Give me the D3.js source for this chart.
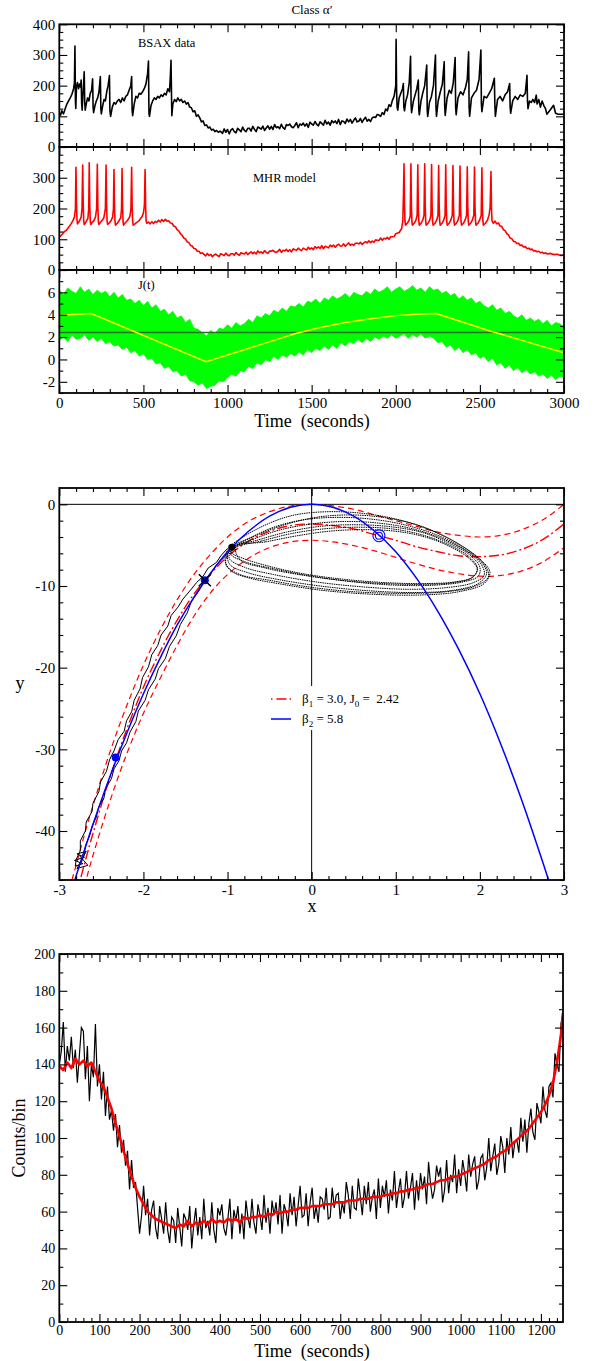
<!DOCTYPE html>
<html>
<head>
<meta charset="utf-8">
<script src="https://cdn.jsdelivr.net/npm/d3@7"></script>
<style>
  body { margin: 0; background: #fff; }
  svg { display: block; }
  svg text { white-space: pre; font-family: "Liberation Serif", "Times New Roman", serif; }
</style>
</head>
<body>
<script>
// ---------------- data : top figure (light curves, 0-3000 s) ----------------
const bsaxData = [[0,112],[8,104],[15,118],[25,108],[35,125],[45,140],[55,150],[65,160],[75,172],[85,190],[90,210],[93,329],[96,150],[98,126],
  [102,195],[108,210],[114,190],[120,205],[126,196],[130,218],[133,140],[136,120],[140,170],[144,200],[148,245],[151,150],[154,120],
  [160,140],[168,160],[176,150],[184,175],[192,185],[198,222],[201,130],[204,112],[212,135],[220,150],[228,160],[236,180],[244,230],
  [247,125],[250,108],[258,135],[266,155],[274,150],[282,180],[290,200],[298,233],[301,118],[305,100],[315,130],[325,145],[335,140],
  [345,150],[355,155],[365,145],[375,160],[385,150],[395,165],[405,170],[415,185],[425,200],[430,230],[433,120],[436,102],[445,140],
  [455,165],[465,160],[475,175],[485,172],[495,180],[505,190],[515,205],[525,240],[530,280],[533,110],[536,100],[545,135],[555,150],
  [565,160],[575,155],[585,165],[595,160],[605,170],[615,165],[625,175],[635,170],[645,190],[655,180],[660,230],[664,283],[667,170],
  [669,102],[675,140],[685,155],[695,148],[705,160],[715,150],[725,155],[735,145],[745,150],[755,140],[765,145],[775,130],[785,128],
  [795,115],[805,118],[815,100],[825,105],[835,95],[845,82],[855,85],[865,70],[875,72],[885,62],[895,65],[905,55],[915,58],[925,50],
  [935,54],[945,48],[955,52],
  [960,50],[970,44],[980,59],[990,48],[1000,57],[1010,43],[1020,55],[1030,60],[1040,50],[1050,46],[1060,61],[1070,56],[1080,50],
  [1090,65],[1100,54],[1110,50],[1120,61],[1130,61],[1140,52],[1150,67],[1160,58],[1170,50],[1180,65],[1190,62],[1200,58],[1210,68],
  [1220,54],[1230,62],[1240,69],[1250,58],[1260,67],[1270,57],[1280,73],[1290,63],[1300,66],[1310,60],[1320,74],[1330,63],[1340,58],
  [1350,73],[1360,70],[1370,75],[1380,66],[1390,63],[1400,70],[1410,79],[1420,63],[1430,75],[1440,71],[1450,78],[1460,68],[1470,76],
  [1480,64],[1490,81],[1500,75],[1510,71],[1520,83],[1530,74],[1540,69],[1550,82],[1560,77],[1570,71],[1580,87],[1590,75],[1600,81],
  [1610,71],[1620,86],[1630,79],[1640,85],[1650,76],[1660,90],[1670,73],[1680,85],[1690,83],[1700,77],[1710,91],[1720,82],[1730,90],
  [1740,78],[1750,87],[1760,95],[1770,82],[1780,84],[1790,93],[1800,80],[1810,90],[1820,97],[1830,84],[1840,90],[1850,83],[1860,95],
  [1870,98],[1880,96],[1890,106],[1900,104],[1910,100],[1920,112],[1930,106],[1940,124],[1950,118],[1960,138],[1970,132],[1980,152],
  [1990,165],[2000,200],[2002,351],[2005,180],[2008,130],[2012,120],[2020,160],[2030,175],[2040,190],
  [2045,207],[2048,130],[2052,118],[2060,150],[2070,170],[2080,210],[2088,296],[2091,140],[2094,112],[2105,150],[2115,170],[2125,190],
  [2134,218],[2137,120],[2140,105],[2150,150],[2160,175],[2172,200],[2184,267],[2187,120],[2190,100],[2200,145],[2212,165],[2224,200],
  [2236,300],[2239,130],[2242,100],[2252,150],[2265,180],[2277,205],[2288,278],[2291,130],[2294,103],[2305,160],[2318,185],[2330,175],
  [2342,210],[2353,292],[2356,130],[2359,105],[2370,160],[2385,180],[2400,170],[2415,195],[2425,220],[2433,310],[2436,130],[2439,100],
  [2450,160],[2465,175],[2480,185],[2495,220],[2506,316],[2509,140],[2512,115],[2525,165],[2540,160],[2555,175],[2570,190],[2586,224],
  [2589,140],[2592,100],[2605,155],[2620,165],[2635,150],[2650,170],[2665,180],[2677,207],[2680,130],[2683,110],[2695,150],[2710,165],
  [2725,155],[2740,170],[2755,165],[2770,175],[2780,234],[2783,150],[2786,125],[2795,150],[2805,145],[2815,155],[2825,145],[2835,169],
  [2840,140],[2850,155],[2860,130],[2870,150],[2880,135],[2890,125],[2898,107],[2920,122],[2938,136],[2950,110],[2965,107],[3000,107]];

const mhrData = [[0,108],[10,112],[20,118],[30,125],[40,128],[50,135],[60,142],[70,150],[80,160],[90,172],[96,200],[99,334],[102,220],
  [105,165],[108,150],[115,155],[122,162],[130,172],[135,200],[139,341],[142,220],[145,160],[148,148],[155,153],[162,160],[170,168],
  [175,200],[178,349],[181,215],[184,160],[187,148],[195,155],[205,160],[215,172],[222,200],[226,344],[229,215],[232,160],[235,148],
  [245,155],[255,162],[265,170],[274,200],[278,341],[281,215],[284,160],[287,148],[297,153],[307,160],[317,172],[322,200],[325,327],
  [328,210],[331,158],[334,146],[345,152],[355,160],[365,170],[370,200],[373,330],[376,210],[379,158],[382,146],[390,152],[400,158],
  [410,165],[420,175],[426,200],[430,334],[433,210],[436,158],[439,146],[450,150],[460,155],[470,158],[480,165],[490,172],[500,185],
  [506,210],[510,327],[513,210],[516,160],[520,152],[530,156],[540,150],[550,157],[560,151],[570,158],[580,155],[590,162],[600,156],
  [610,164],[620,158],[630,165],[640,159],[650,160],[660,153],[670,152],[680,143],[690,141],[700,131],[710,127],[720,118],[730,113],
  [740,104],[750,101],[760,92],[770,89],[780,80],[790,78],[800,70],[810,69],[820,61],[830,61],[840,54],[850,56],
  [860,51],[870,46],[880,54],[890,47],[900,51],[910,43],[920,49],[930,52],[940,47],[950,44],[960,53],[970,50],[980,47],[990,55],
  [1000,49],[1010,46],[1020,53],[1030,53],[1040,48],[1050,57],[1060,51],[1070,48],[1080,56],[1090,54],[1100,52],[1110,58],[1120,50],
  [1130,55],[1140,59],[1150,53],[1160,58],[1170,52],[1180,62],[1190,56],[1200,59],[1210,54],[1220,63],[1230,57],[1240,54],[1250,62],
  [1260,61],[1270,64],[1280,59],[1290,57],[1300,61],[1310,67],[1320,57],[1330,64],[1340,62],[1350,67],[1360,60],[1370,66],[1380,59],
  [1390,69],[1400,66],[1410,64],[1420,71],[1430,66],[1440,63],[1450,71],[1460,68],[1470,65],[1480,74],[1490,68],[1500,72],[1510,66],
  [1520,76],[1530,71],[1540,75],[1550,70],[1560,79],[1570,69],[1580,77],[1590,75],[1600,72],[1610,81],[1620,76],[1630,81],[1640,74],
  [1650,80],[1660,84],[1670,78],[1680,78],[1690,85],[1700,77],[1710,83],[1720,88],[1730,80],[1740,84],[1750,80],[1760,87],[1770,87],
  [1780,85],[1790,90],[1800,83],[1810,88],[1820,92],[1830,88],[1840,95],[1850,89],[1860,94],[1870,90],[1880,98],[1890,97],[1900,96],
  [1910,104],[1920,97],[1930,103],[1940,101],[1950,106],[1960,100],[1970,108],[1980,108],[1990,109],[2000,118],[2020,122],[2035,135],
  [2042,160],[2046,250],[2049,345],[2052,210],[2055,158],
  [2058,146],[2068,152],[2078,160],[2086,175],[2090,345],[2093,210],[2096,158],[2099,146],[2110,152],[2120,162],[2127,178],[2131,342],
  [2134,210],[2137,158],[2140,146],[2150,152],[2160,162],[2168,178],[2172,345],[2175,210],[2178,158],[2181,146],[2192,152],[2202,162],
  [2209,178],[2213,343],[2216,210],[2219,158],[2222,146],[2233,152],[2243,162],[2251,178],[2255,340],[2258,210],[2261,158],[2264,146],
  [2275,152],[2285,162],[2293,178],[2297,342],[2300,210],[2303,158],[2306,146],[2317,152],[2327,162],[2336,178],[2340,340],[2343,210],
  [2346,158],[2349,146],[2360,152],[2370,162],[2378,178],[2382,338],[2385,210],[2388,158],[2391,146],[2402,152],[2412,162],[2421,178],
  [2425,336],[2428,210],[2431,158],[2434,146],[2445,152],[2455,162],[2464,178],[2468,335],[2471,210],[2474,158],[2477,146],[2488,152],
  [2498,162],[2508,178],[2512,332],[2515,210],[2518,158],[2521,146],[2533,152],[2545,162],[2555,180],[2561,205],[2566,320],[2569,200],
  [2572,160],[2580,152],[2590,159],[2600,150],[2610,153],[2620,143],[2630,142],[2640,131],[2650,128],[2660,118],[2670,114],[2680,104],
  [2690,102],[2700,93],[2710,92],[2720,86],[2730,87],[2740,80],[2750,81],[2760,75],[2770,76],[2780,70],[2790,71],[2800,66],[2810,68],
  [2820,62],[2830,63],[2840,59],[2850,61],[2860,56],[2870,58],[2880,54],[2890,56],[2900,52],[2920,54],[2940,50],[2960,51],[2980,47],
  [3000,48]];

// J(t): envelope of the fast oscillation, one value every jStep seconds
const jStep = 25;
const jUpper = [6.2,5.8,6.4,6.1,5.9,6.5,6.0,6.3,5.8,
  6.2,5.9,6.1,5.6,6.0,5.5,5.8,5.3, 5.4,5.0,5.3,4.8,5.2,4.6,4.9,4.3, 4.5,4.0,4.3,3.7,3.9,3.3,3.6,2.8,
  2.7,2.4,2.1,2.6,2.3,2.8,2.7,3.1, 2.8,3.3,3.0,3.2,3.6,3.3,3.9,3.7, 4.1,3.9,4.4,4.2,4.6,4.3,4.8,4.7,
  5.0,4.7,5.2,5.1,5.4,5.0,5.5,5.3, 5.7,5.4,5.6,5.9,5.5,6.0,5.8,5.7, 6.1,5.8,6.3,6.0,6.2,6.5,6.0,6.3,
  6.5,6.1,6.3,6.6,6.2,6.4,6.0,6.5, 6.2,6.3,5.9,6.1,5.7,5.9,5.4,5.7, 5.3,5.5,5.0,5.2,4.8,4.6,4.9,4.4,
  4.6,4.1,4.3,3.9,3.7,4.0,3.5,3.7, 3.4,3.6,3.2,3.5,3.0,3.3,3.2,2.9];
const jLower = [1.7,2.0,1.6,2.2,1.8,1.9,2.2,1.7,2.0,
  1.6,1.9,1.4,1.6,1.2,1.3,0.9,1.1, 0.6,0.8,0.3,0.5,0.0,0.1,-0.4,-0.3, -0.8,-0.6,-1.1,-1.0,-1.5,-1.3,-1.9,-2.0,
  -2.3,-2.1,-2.6,-2.4,-2.3,-1.9,-2.0,-1.6, -1.3,-1.5,-1.0,-1.1,-0.6,-0.8,-0.3,-0.5, 0.0,-0.2,0.3,0.0,0.4,0.2,0.5,0.3,
  0.7,0.4,0.9,0.6,1.0,0.8,1.2,0.9, 1.3,1.0,1.5,1.2,1.6,1.4,1.8,1.5, 1.9,1.6,2.0,1.8,2.1,1.9,2.2,1.9,
  2.1,2.3,1.9,2.2,2.0,2.3,1.9,2.1, 1.9,1.5,1.6,1.1,1.3,0.8,1.1,0.6, 0.9,0.4,0.6,0.1,0.3,-0.2,0.1,-0.5,
  -0.3,-0.8,-0.5,-1.0,-0.7,-1.2,-0.9,-1.3, -1.1,-1.5,-1.3,-1.7,-1.4,-1.8,-1.5,-1.6];
const jTrend = [[0,3.95],[190,4.1],[872,-0.2],[1000,0.4],[1200,1.35],[1400,2.3],[1550,2.85],[1700,3.3],[1850,3.65],
  [2000,3.92],[2120,4.05],[2240,4.1],[2560,2.55],[3000,0.6]];
const J0 = 2.42;

const topTimeTicks = [0,500,1000,1500,2000,2500,3000];
const countTicks = [0,100,200,300,400];
const jTicks = [-2,0,2,4,6,8];

// ---------------- data : phase plane ----------------
const nullX     = [-2.85,-2.8,-2.7,-2.6,-2.4,-2.2,-2.0,-1.8,-1.6,-1.4,-1.2,-1.0,-0.75,-0.5,-0.25,0,0.25,0.5,0.75,1.0,1.25,1.5,1.75,2.0,2.25,2.5,2.75,3.0];
const nullUpper = [-46.0,-44.2,-40.4,-36.9,-30.4,-24.7,-19.7,-15.4,-11.7,-8.6,-6.1,-4.0,-2.1,-0.9,-0.2,0,-0.2,-0.6,-1.3,-2.0,-2.7,-3.4,-3.8,-4.0,-3.8,-3.1,-1.9,0.0];
const nullMid   = [-49.9,-47.9,-44.0,-40.3,-33.5,-27.6,-22.4,-18.0,-14.2,-11.0,-8.5,-6.4,-4.5,-3.3,-2.6,-2.4,-2.6,-3.0,-3.7,-4.4,-5.2,-5.8,-6.3,-6.4,-6.2,-5.5,-4.3,-2.4];
const nullLower = [-52.7,-50.7,-46.7,-43.0,-36.4,-30.6,-25.6,-21.3,-17.3,-13.7,-10.8,-8.6,-6.6,-5.3,-4.6,-4.4,-4.6,-5.05,-5.7,-6.5,-7.3,-8.0,-8.5,-8.8,-8.7,-8.15,-7.05,-5.3];
const parX = [-2.85,-2.8,-2.6,-2.4,-2.2,-2.0,-1.8,-1.6,-1.4,-1.2,-1.0,-0.75,-0.5,-0.25,0,0.25,0.5,0.75,1.0,1.25,1.5,1.75,2.0,2.25,2.5,2.75,2.85];
const parY = [-47.1,-45.5,-39.2,-33.4,-28.1,-23.2,-18.8,-14.8,-11.4,-8.4,-5.8,-3.3,-1.45,-0.36,0,-0.36,-1.45,-3.3,-5.8,-9.1,-13.1,-17.8,-23.2,-29.4,-36.3,-43.9,-47.1];

const burstLoops = [
  [[-0.98,-5.3],[-0.8,-3.9],[-0.5,-2.3],[-0.2,-1.3],[0.2,-0.9],[0.6,-1.1],[1.0,-1.8],[1.4,-3.1],[1.75,-4.9],[2.0,-6.7],[2.12,-8.3],[2.05,-9.7],[1.75,-10.7],[1.3,-11.1],[0.7,-11.0],[0.1,-10.5],[-0.4,-9.7],[-0.75,-9.0],[-0.95,-8.2],[-1.03,-6.8]],
  [[-0.95,-5.4],[-0.75,-4.2],[-0.45,-2.8],[-0.1,-1.9],[0.3,-1.6],[0.7,-1.8],[1.1,-2.5],[1.5,-3.8],[1.8,-5.4],[2.02,-7.1],[2.08,-8.5],[1.98,-9.7],[1.7,-10.5],[1.25,-10.8],[0.7,-10.6],[0.1,-10.0],[-0.4,-9.2],[-0.75,-8.4],[-0.97,-7.4],[-1.0,-6.2]],
  [[-0.93,-5.3],[-0.7,-4.3],[-0.4,-3.2],[0.0,-2.4],[0.4,-2.1],[0.8,-2.3],[1.2,-3.0],[1.55,-4.2],[1.85,-5.8],[2.02,-7.4],[2.05,-8.7],[1.92,-9.6],[1.6,-10.2],[1.15,-10.4],[0.6,-10.1],[0.05,-9.5],[-0.45,-8.6],[-0.8,-7.7],[-0.98,-6.6]],
  [[-0.92,-5.2],[-0.65,-4.4],[-0.3,-3.4],[0.1,-2.7],[0.5,-2.5],[0.9,-2.7],[1.3,-3.4],[1.6,-4.6],[1.88,-6.2],[2.0,-7.7],[1.98,-8.8],[1.8,-9.5],[1.45,-9.9],[1.0,-9.9],[0.5,-9.5],[0.0,-8.8],[-0.45,-7.9],[-0.8,-7.0],[-0.96,-6.1]],
  [[-0.9,-5.25],[-0.6,-4.5],[-0.25,-3.6],[0.15,-3.0],[0.55,-2.8],[0.95,-3.0],[1.3,-3.7],[1.62,-4.9],[1.87,-6.4],[1.97,-7.8],[1.92,-8.9],[1.7,-9.5],[1.35,-9.7],[0.9,-9.6],[0.4,-9.2],[-0.1,-8.5],[-0.5,-7.6],[-0.82,-6.6],[-0.95,-5.9]],
  [[-0.95,-5.3],[-0.7,-4.0],[-0.35,-2.6],[0.05,-1.6],[0.45,-1.3],[0.85,-1.6],[1.25,-2.5],[1.6,-4.0],[1.9,-5.9],[2.07,-7.6],[2.1,-8.9],[1.95,-10.0],[1.6,-10.7],[1.1,-10.9],[0.5,-10.7],[-0.05,-10.1],[-0.5,-9.3],[-0.85,-8.6],[-1.02,-7.4]],
  [[-0.9,-5.2],[-0.55,-4.6],[-0.2,-3.9],[0.2,-3.3],[0.6,-3.1],[1.0,-3.3],[1.35,-4.0],[1.65,-5.2],[1.88,-6.7],[1.97,-8.0],[1.9,-9.0],[1.68,-9.6],[1.3,-9.8],[0.85,-9.7],[0.35,-9.3],[-0.15,-8.6],[-0.55,-7.8],[-0.85,-6.8]]
];
const branchOuter = [[-1.0,-5.4],[-1.08,-6.3],[-1.13,-7.1],[-1.23,-7.8],[-1.29,-8.8],[-1.37,-9.6],[-1.44,-10.5],[-1.53,-11.6],[-1.59,-12.6],
  [-1.67,-13.6],[-1.71,-14.9],[-1.79,-16.0],[-1.83,-17.3],[-1.9,-18.4],[-1.94,-19.9],[-2.01,-21.2],[-2.04,-22.6],[-2.11,-24.0],
  [-2.14,-25.4],[-2.2,-26.5],[-2.23,-27.8],[-2.3,-28.8],[-2.35,-30.2],[-2.4,-31.2],[-2.44,-32.7],[-2.51,-34.0],[-2.53,-35.2],
  [-2.6,-36.6],[-2.61,-37.6],[-2.68,-38.9],[-2.69,-40.0],[-2.75,-41.2],[-2.75,-42.4],[-2.8,-43.5],[-2.81,-44.3],
  [-2.72,-44.0],[-2.82,-43.6],[-2.7,-43.2],[-2.79,-42.8],[-2.68,-42.5],[-2.79,-44.6],[-2.66,-44.2],[-2.76,-43.0]];
const branchInner = [[-2.74,-43.9],[-2.7,-42.8],[-2.69,-41.8],[-2.64,-40.6],[-2.61,-39.4],[-2.56,-38.3],[-2.53,-37.0],[-2.47,-36.0],
  [-2.45,-34.8],[-2.38,-33.6],[-2.35,-32.4],[-2.29,-31.4],[-2.26,-30.2],[-2.2,-29.2],[-2.16,-27.9],[-2.09,-26.6],[-2.06,-25.3],
  [-1.98,-24.0],[-1.94,-22.7],[-1.86,-21.4],[-1.82,-20.1],[-1.74,-18.9],[-1.69,-17.4],[-1.61,-16.1],[-1.56,-14.7],[-1.48,-13.3],
  [-1.43,-11.9],[-1.34,-10.6],[-1.28,-9.4],[-1.19,-8.3],[-1.13,-7.4],[-1.04,-6.5],[-0.98,-5.8]];
const fixedPoints = [{x: -2.33, y: -31.0}, {x: -1.27, y: -9.3}];
const unstablePoint = {x: 0.8, y: -3.84};
const junction = {x: -0.95, y: -5.25};
const phaseXTicks = [-3,-2,-1,0,1,2,3];
const phaseYTicks = [-40,-30,-20,-10,0];

// ---------------- data : bottom light curve ----------------
const binWidth = 5;
const counts = [140,147,163,136,150,142,155,138,148,130,145,160,158,132,150,120,140,133,162,128,
  140,121,136,112,128,110,115,104,113,95,107,92,99,85,93,72,88,73,76,62,
  48,58,74,58,67,47,61,66,51,45,63,56,48,65,50,43,57,55,43,62,
  52,41,59,56,50,63,40,53,62,47,57,45,67,51,55,47,65,50,43,62,
  58,64,51,47,56,67,45,61,55,63,48,59,45,66,57,51,67,54,48,64,
  58,50,69,54,62,48,66,58,65,53,69,48,64,60,52,70,58,68,52,63,
  74,57,58,70,52,65,73,56,63,54,68,67,61,73,56,57,73,62,69,70,
  56,65,59,76,69,56,74,62,61,78,68,58,74,64,76,60,68,72,56,78,
  62,74,68,77,59,72,66,82,62,71,78,62,68,82,67,73,81,61,77,66,
  81,72,79,64,87,75,67,72,85,79,84,65,72,88,70,80,76,91,70,83,
  74,88,81,71,91,79,86,90,72,77,89,91,77,84,100,82,90,97,80,86,
  101,95,81,100,91,106,89,98,99,92,111,98,110,92,108,116,103,99,119,114,
  108,128,115,111,128,130,122,146,140,136,162,168];
const fitData = [[0,139],[10,137],[20,141],[30,138],[40,143],[50,140],[60,142],[70,139],[80,141],[90,136],[100,131],[110,128],
  [120,122],[130,116],[140,108],[150,101],[160,93],[170,86],[180,79],[190,73],[200,68],[210,64],[220,60],[230,58],[240,56],[250,55],
  [260,54],[270,53],[280,52],[290,51],[300,53],[310,52],[320,55],[330,52],[340,54],[350,53],[360,55],[370,53],[380,56],[390,54],
  [400,55],[410,54],[420,56],[430,55],[440,56],[450,54],[460,57],[470,56],[480,57],[490,57],[500,58],[510,57],[520,59],[530,58],
  [540,60],[550,59],[560,60],[570,60],[580,61],[590,61],[600,62],[610,62],[620,62],[630,63],[640,63],[650,63],[660,64],[670,64],
  [680,64],[690,65],[700,65],[710,65],[720,66],[730,66],[740,66],[750,67],[760,67],[770,67],[780,68],[790,68],[800,68],[810,69],
  [820,69],[830,70],[840,70],[850,71],[860,71],[870,72],[880,72],[890,73],[900,73],[910,74],[920,75],[930,75],[940,76],[950,77],
  [960,77],[970,78],[980,79],[990,79],[1000,80],[1010,81],[1020,82],[1030,83],[1040,84],[1050,85],[1060,86],[1070,88],[1080,89],
  [1090,90],[1100,92],[1110,93],[1120,95],[1130,97],[1140,99],[1150,101],[1160,103],[1170,105],[1180,108],[1190,111],[1200,114],
  [1210,118],[1220,123],[1230,130],[1240,141],[1250,156],[1255,168]];
const bottomTimeTicks = [0,100,200,300,400,500,600,700,800,900,1000,1100,1200];
const bottomCountTicks = [0,20,40,60,80,100,120,140,160,180,200];

// ---------------- drawing ----------------
const svg = d3.select("body").append("svg")
    .attr("width", 594).attr("height", 1361);
const defs = svg.append("defs");
const X0 = 59.3, X1 = 564;

function clip(id, x, y) {
    defs.append("clipPath").attr("id", id).append("rect")
        .attr("x", x.range()[0]).attr("y", y.range()[1])
        .attr("width", x.range()[1] - x.range()[0])
        .attr("height", y.range()[0] - y.range()[1]);
    return `url(#${id})`;
}

// inward ticks on all four sides, like xmgrace
function frame(g, x, y, o) {
    const [xa, xb] = x.range(), [yb, ya] = y.range();
    const put = (axis, tx, ty) => g.append("g")
        .attr("transform", `translate(${tx},${ty})`)
        .call(axis)
        .call(s => s.select(".domain").remove())
        .attr("font-size", o.fs || 15)
        .call(s => s.selectAll("line").attr("stroke-width", 1.1));
    const none = () => "";
    put(d3.axisBottom(x).tickValues(o.xMinor).tickSize(-4).tickFormat(none), 0, yb);
    put(d3.axisTop(x).tickValues(o.xMinor).tickSize(-4).tickFormat(none), 0, ya);
    put(d3.axisLeft(y).tickValues(o.yMinor).tickSize(-4).tickFormat(none), xa, 0);
    put(d3.axisRight(y).tickValues(o.yMinor).tickSize(-4).tickFormat(none), xb, 0);
    put(d3.axisBottom(x).tickValues(o.xMajor).tickSize(-8).tickPadding(o.xPad || 5).tickFormat(o.xFmt || none), 0, yb);
    put(d3.axisTop(x).tickValues(o.xMajor).tickSize(-8).tickFormat(none), 0, ya);
    put(d3.axisLeft(y).tickValues(o.yMajor).tickSize(-8).tickPadding(4).tickFormat(o.yFmt || none), xa, 0);
    put(d3.axisRight(y).tickValues(o.yMajor).tickSize(-8).tickFormat(none), xb, 0);
    g.append("rect")
        .attr("x", xa).attr("y", ya).attr("width", xb - xa).attr("height", yb - ya)
        .attr("fill", "none").attr("stroke", "#000").attr("stroke-width", 1.8);
}

const notMajor = (step) => (v) => Math.abs(v / step - Math.round(v / step)) > 1e-6;

// ---- top figure
const tTop = d3.scaleLinear().domain([0, 3000]).range([X0, X1]);
const yBsax = d3.scaleLinear().domain([0, 400]).range([147, 24.3]);
const yMhr = d3.scaleLinear().domain([0, 400]).range([270, 147]);
const yJ = d3.scaleLinear().domain([-3, 8]).range([393, 270]);
const tMinor = d3.range(0, 3001, 100).filter(notMajor(500));
const cMinor = d3.range(0, 401, 25).filter(notMajor(100));

const g1 = svg.append("g");
const g1c = g1.append("g").attr("clip-path", clip("c1", tTop, yBsax));
g1c.append("path").datum(bsaxData)
    .attr("fill", "none").attr("stroke", "#000").attr("stroke-width", 1.6).attr("stroke-linejoin", "round")
    .attr("d", d3.line().x(d => tTop(d[0])).y(d => yBsax(d[1])));
frame(g1, tTop, yBsax, {xMajor: topTimeTicks, xMinor: tMinor, yMajor: countTicks, yMinor: cMinor, yFmt: d => d});
g1.append("text").attr("x", 138).attr("y", 46.5).attr("font-size", 12.5).text("BSAX data");

const g2 = svg.append("g");
const g2c = g2.append("g").attr("clip-path", clip("c2", tTop, yMhr));
g2c.append("path").datum(mhrData)
    .attr("fill", "none").attr("stroke", "#ff0000").attr("stroke-width", 1.6).attr("stroke-linejoin", "round")
    .attr("d", d3.line().x(d => tTop(d[0])).y(d => yMhr(d[1])));
frame(g2, tTop, yMhr, {xMajor: topTimeTicks, xMinor: tMinor, yMajor: countTicks, yMinor: cMinor, yFmt: d => d === 400 ? "" : d});
g2.append("text").attr("x", 253).attr("y", 181.5).attr("font-size", 12.5).text("MHR model");

const g3 = svg.append("g");
const g3c = g3.append("g").attr("clip-path", clip("c3", tTop, yJ));
g3c.append("path").datum(jUpper)
    .attr("fill", "#00ff00").attr("stroke", "#00ff00").attr("stroke-width", 0.8)
    .attr("d", d3.area().x((d, i) => tTop(i * jStep)).y0((d, i) => yJ(jLower[i])).y1(d => yJ(d)));
g3c.append("line")
    .attr("x1", X0).attr("x2", X1).attr("y1", yJ(J0)).attr("y2", yJ(J0))
    .attr("stroke", "#267326").attr("stroke-width", 1.5);
g3c.append("path").datum(jTrend)
    .attr("fill", "none").attr("stroke", "#ffff00").attr("stroke-width", 1.5)
    .attr("d", d3.line().x(d => tTop(d[0])).y(d => yJ(d[1])));
frame(g3, tTop, yJ, {xMajor: topTimeTicks, xMinor: tMinor, yMajor: jTicks, yMinor: [-3,-1,1,3,5,7],
    xFmt: d => d, yFmt: d => d === 8 ? "" : d, xPad: 4});
g3.append("text").attr("x", 138).attr("y", 289).attr("font-size", 12.5).text("J(t)");

svg.append("text").attr("x", 312).attr("y", 14).attr("text-anchor", "middle").attr("font-size", 13).text("Class \u03b1\u2032");
svg.append("text").attr("x", 312).attr("y", 426.5).attr("text-anchor", "middle").attr("font-size", 18).text("Time  (seconds)");

// ---- phase plane
const px = d3.scaleLinear().domain([-3, 3]).range([X0, X1]);
const py = d3.scaleLinear().domain([-46, 2]).range([880, 488]);
const gm = svg.append("g");
const gmc = gm.append("g").attr("clip-path", clip("cm", px, py));
gmc.append("line").attr("x1", px(0)).attr("x2", px(0)).attr("y1", py(2)).attr("y2", py(-46))
    .attr("stroke", "#000").attr("stroke-width", 1);
gmc.append("line").attr("x1", X0).attr("x2", X1).attr("y1", py(0)).attr("y2", py(0))
    .attr("stroke", "#000").attr("stroke-width", 1);

const curve = d3.line().x(d => px(d[0])).y(d => py(d[1])).curve(d3.curveCatmullRom);
const zipX = (xs, ys) => xs.map((v, i) => [v, ys[i]]);
gmc.append("path").datum(zipX(nullX, nullUpper)).attr("fill", "none").attr("stroke", "#ff0000")
    .attr("stroke-width", 1.2).attr("stroke-dasharray", "6,4").attr("d", curve);
gmc.append("path").datum(zipX(nullX, nullLower)).attr("fill", "none").attr("stroke", "#ff0000")
    .attr("stroke-width", 1.2).attr("stroke-dasharray", "6,4").attr("d", curve);
gmc.append("path").datum(zipX(nullX, nullMid)).attr("fill", "none").attr("stroke", "#ff0000")
    .attr("stroke-width", 1.4).attr("stroke-dasharray", "10,3,2,3").attr("d", curve);

gmc.selectAll("path.loop").data(burstLoops).join("path").attr("class", "loop")
    .attr("fill", "none").attr("stroke", "#000").attr("stroke-width", 1)
    .attr("stroke-dasharray", "1.5,0.8")
    .attr("d", d3.line().x(d => px(d[0])).y(d => py(d[1])).curve(d3.curveCatmullRomClosed));
const rough = d3.line().x(d => px(d[0])).y(d => py(d[1]));
gmc.append("path").datum(branchOuter).attr("fill", "none").attr("stroke", "#000").attr("stroke-width", 1).attr("d", rough);
gmc.append("path").datum(branchInner).attr("fill", "none").attr("stroke", "#000").attr("stroke-width", 1).attr("d", rough);

gmc.append("path").datum(zipX(parX, parY)).attr("fill", "none").attr("stroke", "#0000ff")
    .attr("stroke-width", 1.5).attr("d", curve);

gmc.selectAll("circle.fp").data(fixedPoints).join("circle").attr("class", "fp")
    .attr("cx", d => px(d.x)).attr("cy", d => py(d.y)).attr("r", 4).attr("fill", "#0000ff");
const xp = fixedPoints[1];
gmc.append("path")
    .attr("d", `M${px(xp.x) - 6},${py(xp.y) - 6}L${px(xp.x) + 6},${py(xp.y) + 6}M${px(xp.x) - 6},${py(xp.y) + 6}L${px(xp.x) + 6},${py(xp.y) - 6}`)
    .attr("stroke", "#000").attr("stroke-width", 1.5);
gmc.selectAll("circle.up").data([3.5, 6]).join("circle").attr("class", "up")
    .attr("cx", px(unstablePoint.x)).attr("cy", py(unstablePoint.y)).attr("r", d => d)
    .attr("fill", "none").attr("stroke", "#0000ff").attr("stroke-width", 1.1);
gmc.append("circle").attr("cx", px(junction.x)).attr("cy", py(junction.y)).attr("r", 3.5).attr("fill", "#000");

// legend
const leg = gm.append("g");
leg.append("rect").attr("x", 262).attr("y", 686).attr("width", 140).attr("height", 44).attr("fill", "#fff");
leg.append("line").attr("x1", 271).attr("x2", 291).attr("y1", 699).attr("y2", 699)
    .attr("stroke", "#ff0000").attr("stroke-width", 1.4).attr("stroke-dasharray", "1.5,4,10,3");
leg.append("line").attr("x1", 271).attr("x2", 291).attr("y1", 719).attr("y2", 719)
    .attr("stroke", "#0000ff").attr("stroke-width", 1.5);
const l1 = leg.append("text").attr("x", 302).attr("y", 703).attr("font-size", 13);
l1.append("tspan").text("\u03b2");
l1.append("tspan").attr("font-size", 9).attr("dy", 4).text("1");
l1.append("tspan").attr("dy", -4).text(" = 3.0, J");
l1.append("tspan").attr("font-size", 9).attr("dy", 4).text("0");
l1.append("tspan").attr("dy", -4).text(" =  2.42");
const l2 = leg.append("text").attr("x", 302).attr("y", 723).attr("font-size", 13);
l2.append("tspan").text("\u03b2");
l2.append("tspan").attr("font-size", 9).attr("dy", 4).text("2");
l2.append("tspan").attr("dy", -4).text(" = 5.8");

frame(gm, px, py, {xMajor: phaseXTicks, xMinor: d3.range(-3, 3.01, 0.2).map(v => +v.toFixed(1)).filter(notMajor(1)),
    yMajor: phaseYTicks, yMinor: d3.range(-46, 1, 2).filter(notMajor(10)),
    xFmt: d => String(d), yFmt: d => String(d), xPad: 4});
svg.append("text").attr("x", 312).attr("y", 912).attr("text-anchor", "middle").attr("font-size", 18).text("x");
svg.append("text").attr("x", 20).attr("y", 689).attr("text-anchor", "middle").attr("font-size", 18).text("y");

// ---- bottom light curve
const bx = d3.scaleLinear().domain([0, 1255]).range([X0, 563]);
const by = d3.scaleLinear().domain([0, 200]).range([1322, 954]);
const gb = svg.append("g");
const gbc = gb.append("g").attr("clip-path", clip("cb", bx, by));
gbc.append("path").datum(counts)
    .attr("fill", "none").attr("stroke", "#000").attr("stroke-width", 1.2)
    .attr("d", d3.line().x((d, i) => bx(i * binWidth)).y(d => by(d)));
gbc.append("path").datum(fitData)
    .attr("fill", "none").attr("stroke", "#ff0000").attr("stroke-width", 2.6).attr("stroke-linejoin", "round")
    .attr("d", d3.line().x(d => bx(d[0])).y(d => by(d[1])));
frame(gb, bx, by, {xMajor: bottomTimeTicks, xMinor: d3.range(0, 1255, 20).filter(notMajor(100)),
    yMajor: bottomCountTicks, yMinor: d3.range(10, 200, 20),
    xFmt: d => d, yFmt: d => d, xPad: 3, fs: 14});
svg.append("text").attr("x", 312).attr("y", 1357).attr("text-anchor", "middle").attr("font-size", 18).text("Time  (seconds)");
svg.append("text").attr("transform", "translate(25,1138) rotate(-90)").attr("text-anchor", "middle")
    .attr("font-size", 18).text("Counts/bin");
</script>
</body>
</html>
